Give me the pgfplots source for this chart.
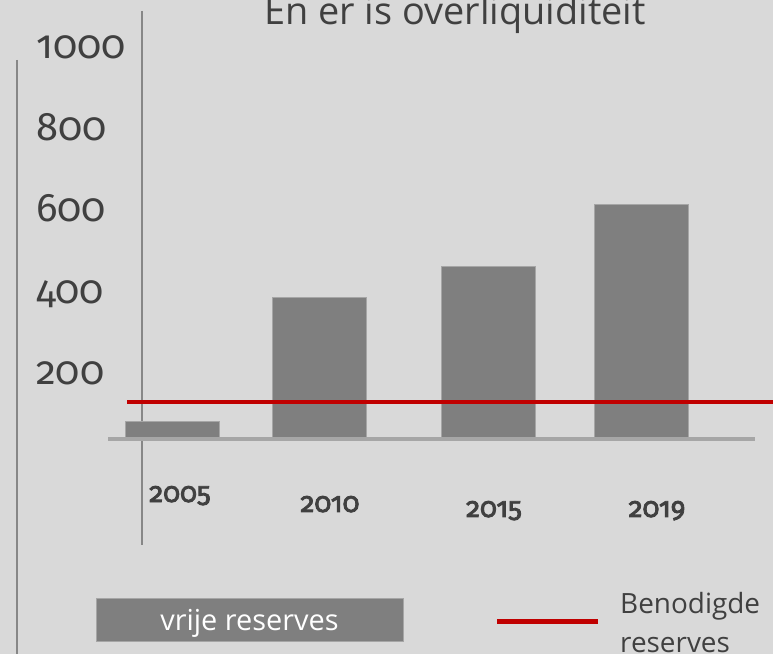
\documentclass[border=0pt]{standalone}
\usepackage{pgfplots}
\pgfplotsset{compat=1.18}
\usepackage{fontspec}
\setmainfont{Open Sans}
\newfontfamily\numfont[Numbers=OldStyle]{Fira Sans}
\newfontfamily\yearfont[Numbers=OldStyle, FakeBold=3]{Fira Sans}
\newcommand\tickfont{\fontsize{40}{40}\selectfont\numfont\addfontfeatures{Numbers=OldStyle}}
\newcommand\yrfont{\fontsize{28}{28}\selectfont\yearfont\addfontfeatures{Numbers=OldStyle}}
\definecolor{bg}{HTML}{D9D9D9}
\definecolor{txt}{HTML}{404040}
\definecolor{barc}{HTML}{7F7F7F}
\definecolor{basec}{HTML}{A6A6A6}
\definecolor{redc}{HTML}{C00000}
\definecolor{vline}{HTML}{878787}
\pgfplotsset{
  frame/.style={width=773bp,height=654bp,scale only axis,
    xmin=0,xmax=773,ymin=-485.9,ymax=1119.0,
    axis line style={draw=none},major tick length=0pt,
    xtick=\empty,ytick=\empty,clip=false},
}
\begin{document}
\begin{tikzpicture}
\fill[bg] (0,0) rectangle (773bp,654bp);
% layer 1: frame lines, baseline, tick labels
\begin{axis}[frame,
  ytick={200,400,600,800,1000},
  yticklabels={200,400,600,800,1000},
  yticklabel style={font=\tickfont, text=txt,
    anchor=base west, inner sep=0pt, xshift=36bp, yshift=-10.5bp}]
\draw[vline, line width=2bp] (axis cs:17,972) -- (axis cs:17,-520);
\draw[vline, line width=2bp] (axis cs:142,1092) -- (axis cs:142,-218);
\draw[basec, line width=4bp] (axis cs:108,41.7) -- (axis cs:755,41.7);
\end{axis}
% layer 2: bars (invisible base + visible part)
\begin{axis}[frame, ybar stacked, bar width=94]
\addplot[draw=none, fill=none] coordinates {(172.7,47) (319.3,47) (488,47) (641.3,47)};
\addplot[fill=barc, draw=basec, line width=0.6bp] coordinates {(172.7,38) (319.3,343) (488,419) (641.3,571)};
\end{axis}
% layer 3: required reserves line, texts, legend
\begin{axis}[frame]
\addplot[redc, line width=4.5bp] coordinates {(127,133) (773,133)};
\node[font=\fontsize{38}{38}\selectfont, text=txt, anchor=base] at (axis cs:455,1057.7) {En er is overliquiditeit};
\node[font=\yrfont, text=txt, anchor=base] at (axis cs:180,-112.9) {2005};
\node[font=\yrfont, text=txt, anchor=base] at (axis cs:330,-137.4) {2010};
\node[font=\yrfont, text=txt, anchor=base] at (axis cs:494,-149.7) {2015};
\node[font=\yrfont, text=txt, anchor=base] at (axis cs:657,-149.7) {2019};
\fill[barc, draw=basec, line width=0.8bp] (axis cs:96,-350.5) rectangle (axis cs:403,-456);
\node[font=\fontsize{29}{29}\selectfont, text=white, anchor=base] at (axis cs:249.5,-429) {vrije reserves};
\draw[redc, line width=4.5bp] (axis cs:497,-406.6) -- (axis cs:598,-406.6);
\node[font=\fontsize{28}{28}\selectfont, text=txt, anchor=base west, inner sep=0pt] at (axis cs:620,-385.3) {Benodigde};
\node[font=\fontsize{28}{28}\selectfont, text=txt, anchor=base west, inner sep=0pt] at (axis cs:620,-481) {reserves};
\end{axis}
\pgfresetboundingbox
\path[use as bounding box] (0,0) rectangle (773bp,654bp);
\end{tikzpicture}
\end{document}
